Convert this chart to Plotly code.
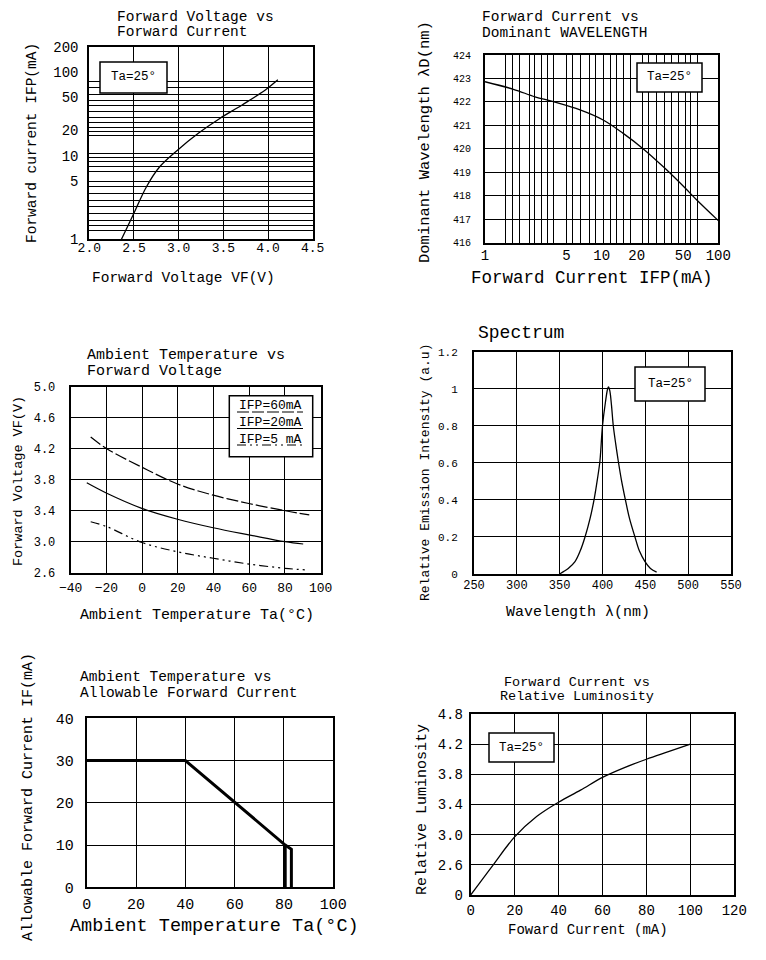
import math
import plotly.graph_objects as go

W, H = 766, 960
FONT = "Liberation Mono"

# ---------------- data ----------------
# Panel 1: Forward Voltage vs Forward Current (Ta=25)
p1_vf = [2.36, 2.49, 2.64, 2.79, 2.99, 3.22, 3.46, 3.71, 3.97, 4.11]
p1_if = [1, 1.95, 4.25, 7.4, 11.7, 18.5, 27.8, 40.3, 60.8, 80.4]
p1_xticks = [2.0, 2.5, 3.0, 3.5, 4.0, 4.5]
p1_yticks = [1, 5, 10, 20, 50, 100, 200]
p1_ygrid = [1.27, 1.48, 1.70, 2.04, 2.45, 2.89, 3.55, 4.25, 4.9, 6.4, 7.4, 8.5, 9.5, 10.6,
            17.3, 19.3, 21.8, 25, 28.7, 34, 40, 46, 54, 65, 76.5]

# Panel 2: Forward Current vs Dominant Wavelength
p2_if = [1, 1.75, 2.68, 3.85, 6.53, 10.3, 15.3, 22.5, 34.9, 52.2, 65.4, 100]
p2_wl = [422.86, 422.54, 422.22, 422.01, 421.66, 421.23, 420.66, 420.02, 419.17, 418.32, 417.82, 416.94]
p2_xticks = [1, 5, 10, 20, 50, 100]
p2_xgrid = [1.51, 1.72, 1.99, 2.41, 2.68, 3.06, 3.45, 3.85, 4.95, 5.65, 6.53, 7.83, 8.77, 10.3,
            11.8, 13.5, 15.3, 17.5, 22.4, 25.0, 29.7, 34.9, 39.9, 45.5, 52.2, 58.2, 65.7]
p2_yticks = [416, 417, 418, 419, 420, 421, 422, 423, 424]

# Panel 3: Ambient Temperature vs Forward Voltage
p3_t60 = [-28.8, -19.8, 0, 19.8, 39.8, 60.4, 80, 93.6]
p3_v60 = [4.35, 4.2, 3.96, 3.745, 3.60, 3.49, 3.40, 3.345]
p3_t20 = [-31, -19.8, -0.2, 19.8, 39.8, 60.4, 80, 90.2]
p3_v20 = [3.76, 3.625, 3.43, 3.29, 3.18, 3.086, 3.0, 2.97]
p3_t5 = [-28.8, -19.8, -0.2, 19.8, 39.8, 60.4, 80, 92.1]
p3_v5 = [3.258, 3.194, 2.99, 2.87, 2.786, 2.71, 2.657, 2.635]
p3_labels = ["IFP=60mA", "IFP=20mA", "IFP=5 mA"]

# Panel 4: Spectrum
p4_wl = [350, 354.4, 360, 367.9, 374, 379.6, 385.5, 390.5, 394, 397, 400, 403.5, 406, 407,
         408.5, 410.5, 412.6, 415.5, 418.4, 422, 426.3, 431.5, 437.9, 443, 449.6, 456, 463.2]
p4_int = [0.0, 0.013, 0.03, 0.067, 0.125, 0.2, 0.3, 0.41, 0.51, 0.61, 0.8, 0.93, 1.0, 1.01,
          0.99, 0.91, 0.8, 0.7, 0.61, 0.51, 0.41, 0.3, 0.2, 0.125, 0.067, 0.03, 0.01]

# Panel 5: Ambient Temperature vs Allowable Forward Current
p5_t = [0, 40, 80.5, 83, 83]
p5_i = [30, 30, 10, 9, 0]
p5_t2 = [80.5, 80.5]
p5_i2 = [10, 0]

# Panel 6: Forward Current vs Relative Luminosity
p6_if = [0, 10, 20, 30, 40, 50, 60, 70, 80, 90, 100]
p6_lum = [2.2, 2.59, 2.97, 3.24, 3.43, 3.59, 3.76, 3.89, 4.0, 4.1, 4.2]
p6_yticks = [2.2, 2.6, 3.0, 3.4, 3.8, 4.2, 4.6]
p6_ytext = ["0", "2.6", "3.0", "3.4", "3.8", "4.2", "4.8"]


# ---------------- helpers ----------------
def dx(l, r):
    return [l / W, r / W]


def dy(t, b):
    return [1 - b / H, 1 - t / H]


def px(x):
    return x / W


def py(y):
    return 1 - y / H


AX = dict(showline=True, linecolor="black", linewidth=2, mirror=True,
          gridcolor="black", gridwidth=1.3, zeroline=False, ticks="", ticklen=0,
          color="black", fixedrange=True, automargin=False)

fig = go.Figure()
LINE = dict(color="black", width=1.3)

fig.add_trace(go.Scatter(x=p1_vf, y=p1_if, mode="lines", line=LINE, line_shape="spline",
                         xaxis="x", yaxis="y"))
fig.add_trace(go.Scatter(x=p2_if, y=p2_wl, mode="lines", line=LINE, line_shape="spline",
                         xaxis="x2", yaxis="y2"))
fig.add_trace(go.Scatter(x=p3_t60, y=p3_v60, mode="lines", line_shape="spline",
                         line=dict(color="black", width=1.2, dash="12px,3px"),
                         xaxis="x3", yaxis="y3"))
fig.add_trace(go.Scatter(x=p3_t20, y=p3_v20, mode="lines", line_shape="spline",
                         line=dict(color="black", width=1.2),
                         xaxis="x3", yaxis="y3"))
fig.add_trace(go.Scatter(x=p3_t5, y=p3_v5, mode="lines", line_shape="spline",
                         line=dict(color="black", width=1.2, dash="9px,4px,2px,4px,2px,4px"),
                         xaxis="x3", yaxis="y3"))
fig.add_trace(go.Scatter(x=p4_wl, y=p4_int, mode="lines", line=LINE, line_shape="spline",
                         xaxis="x4", yaxis="y4"))
fig.add_trace(go.Scatter(x=p5_t, y=p5_i, mode="lines", line=dict(color="black", width=3),
                         xaxis="x5", yaxis="y5"))
fig.add_trace(go.Scatter(x=p5_t2, y=p5_i2, mode="lines", line=dict(color="black", width=3),
                         xaxis="x5", yaxis="y5"))
fig.add_trace(go.Scatter(x=p6_if, y=p6_lum, mode="lines", line=LINE, line_shape="spline",
                         xaxis="x6", yaxis="y6"))


def tf(s):
    return dict(family=FONT, size=s, color="black")


layout = dict(
    width=W, height=H, margin=dict(l=0, r=0, t=0, b=0, autoexpand=False),
    paper_bgcolor="white", plot_bgcolor="white", showlegend=False,
    font=dict(family=FONT, color="black"),
    # Panel 1
    xaxis=dict(AX, domain=dx(89.3, 312.7), anchor="y", range=[2.0, 4.5], tickvals=p1_xticks,
               tickformat=".1f", tickfont=tf(13), ticklabelstandoff=-5),
    yaxis=dict(AX, domain=dy(46.7, 239.3), anchor="x", type="log", range=[0, math.log10(200)],
               tickvals=p1_yticks, showgrid=False, tickfont=tf(14), ticklabelstandoff=6,
               minor=dict(tickmode="array", tickvals=p1_ygrid, showgrid=True,
                          gridcolor="black", gridwidth=1.2, ticks="")),
    # Panel 2
    xaxis2=dict(AX, domain=dx(485, 718.3), anchor="y2", type="log", range=[0, 2],
                tickvals=p2_xticks, showgrid=False, tickfont=tf(14), ticklabelstandoff=-2,
                minor=dict(tickmode="array", tickvals=p2_xgrid, showgrid=True,
                           gridcolor="black", gridwidth=1.2, ticks="")),
    yaxis2=dict(AX, domain=dy(55, 242.7), anchor="x2", range=[416, 424], tickvals=p2_yticks,
                tickfont=tf(10), ticklabelstandoff=10),
    # Panel 3
    xaxis3=dict(AX, domain=dx(70.7, 320.7), anchor="y3", range=[-40, 100], dtick=20, tick0=-40,
                tickfont=tf(13), ticklabelstandoff=2),
    yaxis3=dict(AX, domain=dy(386.7, 572.7), anchor="x3", range=[2.6, 5.0], dtick=0.4, tick0=2.6,
                tickformat=".1f", tickfont=tf(12), ticklabelstandoff=11),
    # Panel 4
    xaxis4=dict(AX, domain=dx(474, 731), anchor="y4", range=[250, 550], dtick=50, tick0=250,
                tickfont=tf(12), ticklabelstandoff=-1),
    yaxis4=dict(AX, domain=dy(351.7, 574), anchor="x4", range=[0, 1.2], dtick=0.2, tick0=0,
                tickfont=tf(11), ticklabelstandoff=12),
    # Panel 5
    xaxis5=dict(AX, domain=dx(86.7, 333.3), anchor="y5", range=[0, 100], dtick=20, tick0=0,
                tickfont=tf(15), ticklabelstandoff=2),
    yaxis5=dict(AX, domain=dy(718.3, 887.3), anchor="x5", range=[0, 40], dtick=10, tick0=0,
                tickfont=tf(15), ticklabelstandoff=8),
    # Panel 6
    xaxis6=dict(AX, domain=dx(470.7, 734.3), anchor="y6", range=[0, 120], dtick=20, tick0=0,
                tickfont=tf(14), ticklabelstandoff=1),
    yaxis6=dict(AX, domain=dy(714, 895), anchor="x6", range=[2.2, 4.6], tickvals=p6_yticks,
                ticktext=p6_ytext, tickfont=tf(14), ticklabelstandoff=3),
)
fig.update_layout(**layout)

ann = []
shapes = []


def text(x, y, s, size, xanchor="center", yanchor="middle", angle=0):
    ann.append(dict(x=px(x), y=py(y), xref="paper", yref="paper", text=s, showarrow=False,
                    xanchor=xanchor, yanchor=yanchor, textangle=angle,
                    font=dict(family=FONT, size=size, color="black")))


def box(l, t, r, b, s, size=12.5):
    shapes.append(dict(type="rect", xref="paper", yref="paper", x0=px(l), x1=px(r),
                       y0=py(b), y1=py(t), fillcolor="white",
                       line=dict(color="black", width=1.5), layer="above"))
    if s:
        text((l + r) / 2, (t + b) / 2, s, size)


# Panel 1 texts
text(115, 17, "Forward Voltage vs", 14.5, "left")
text(115, 32, "Forward Current", 14.5, "left")
text(32, 143, "Forward current IFP(mA)", 14.5, angle=-90)
text(183, 278, "Forward Voltage VF(V)", 14.5)
box(100, 62, 167, 93, "Ta=25°")

# Panel 2 texts
text(480, 17, "Forward Current vs", 14.5, "left")
text(480, 33, "Dominant WAVELENGTH", 14.5, "left")
text(425, 142, "Dominant Wavelength λD(nm)", 15.5, angle=-90)
text(592, 278, "Forward Current IFP(mA)", 17.5)
box(637, 63, 702, 92, "Ta=25°")

# Panel 3 texts
text(85, 355, "Ambient Temperature vs", 15, "left")
text(85, 372, "Forward Voltage", 15, "left")
text(18, 481, "Forward Voltage VF(V)", 13.5, angle=-90)
text(197, 615, "Ambient Temperature Ta(°C)", 15)
box(229.3, 395.7, 312.7, 456.7, "")
leg_y = [412, 428.5, 445]
leg_dash = ["12px,3px", "solid", "9px,4px,2px,4px,2px,4px"]
for yy, lab, dsh in zip(leg_y, p3_labels, leg_dash):
    text(237, yy - 6, lab, 13, "left", "middle")
    shapes.append(dict(type="line", xref="paper", yref="paper", x0=px(237), x1=px(303),
                       y0=py(yy), y1=py(yy),
                       line=dict(color="black", width=1.2, dash=dsh), layer="above"))

# Panel 4 texts
text(476, 333, "Spectrum", 18, "left")
text(425, 473, "Relative Emission Intensity (a.u)", 13, angle=-90)
text(578, 612, "Wavelength λ(nm)", 15)
box(635, 367, 705, 401, "Ta=25°")

# Panel 5 texts
text(78, 677, "Ambient Temperature vs", 14.5, "left")
text(78, 693, "Allowable Forward Current", 14.5, "left")
text(28, 797, "Allowable Forward Current IF(mA)", 15, angle=-90)
text(214, 926, "Ambient Temperature Ta(°C)", 18.5)

# Panel 6 texts
text(577, 682, "Forward Current vs", 13.5)
text(577, 696, "Relative Luminosity", 13.5)
text(422, 810, "Relative Luminosity", 15, angle=-90)
text(588, 930, "Foward Current (mA)", 14)
box(489, 733, 554, 762, "Ta=25°")

fig.update_layout(annotations=ann, shapes=shapes)
fig.write_html("out.html", config={"displayModeBar": False},
               post_script="document.body.style.margin='0px';")
